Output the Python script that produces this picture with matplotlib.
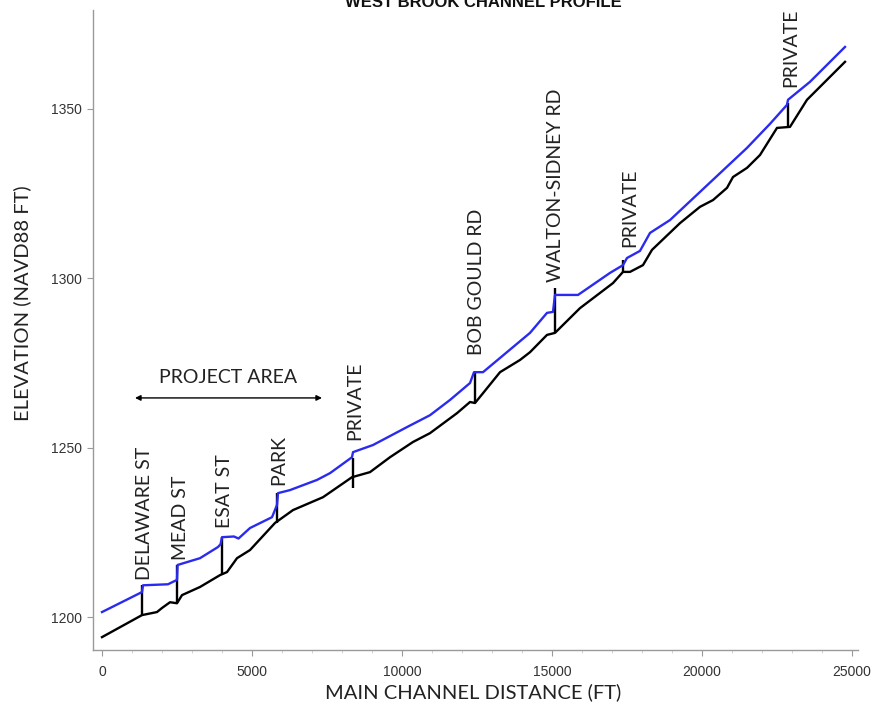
import matplotlib
matplotlib.use("Agg")
import matplotlib.pyplot as plt
from matplotlib.ticker import MultipleLocator

# Water surface profile (blue)
ws_x = [0, 1333, 1367, 2200, 2500, 2520, 3267, 3867, 3950, 4000, 4400, 4550, 4933,
        5667, 5833, 5867, 6267, 7167, 7600, 8333, 8367, 9033, 10167, 10933, 11600,
        12267, 12400, 12700, 14267, 14833, 15033, 15100, 15867, 16933, 17367, 17500,
        17933, 18267, 18933, 19933, 21500, 22267, 22833, 22867, 23600, 24767]
ws_y = [1201.5, 1207.4, 1209.4, 1209.7, 1211.0, 1215.4, 1217.4, 1220.7, 1221.5, 1223.6,
        1223.8, 1223.2, 1226.3, 1229.5, 1233.1, 1236.6, 1237.5, 1240.5, 1242.5, 1247.2,
        1248.7, 1250.8, 1256.1, 1259.6, 1264.1, 1269.1, 1272.3, 1272.3, 1283.9, 1289.8,
        1290.1, 1295.1, 1295.1, 1301.6, 1303.9, 1306.0, 1308.1, 1313.4, 1317.2, 1325.5,
        1338.5, 1345.6, 1351.2, 1352.7, 1358.0, 1368.3]

# Channel bed (black)
bed_x = [0, 1333, 1833, 2000, 2267, 2500, 2667, 3267, 3933, 4167, 4500, 4933, 5767,
         6367, 7367, 8333, 8933, 9600, 10367, 10933, 11833, 12267, 12433, 12700, 13267,
         13933, 14267, 14833, 15100, 15933, 17033, 17367, 17600, 18033, 18333, 19267,
         19933, 20367, 20833, 21033, 21500, 21933, 22500, 22933, 23500, 24767]
bed_y = [1194.1, 1200.6, 1201.5, 1202.7, 1204.4, 1204.1, 1206.5, 1208.9, 1212.4, 1213.3,
         1217.4, 1219.8, 1227.8, 1231.6, 1235.4, 1241.3, 1242.8, 1247.2, 1251.7, 1254.3,
         1260.2, 1263.5, 1263.2, 1266.1, 1272.3, 1275.9, 1278.2, 1283.3, 1283.9, 1291.2,
         1298.6, 1301.9, 1301.9, 1303.9, 1308.4, 1316.3, 1321.1, 1323.1, 1326.7, 1329.9,
         1332.6, 1336.4, 1344.4, 1344.7, 1352.7, 1363.9]

# Structures (crossings)
struct_names = ["DELAWARE ST", "MEAD ST", "ESAT ST", "PARK", "PRIVATE",
                "BOB GOULD RD", "WALTON-SIDNEY RD", "PRIVATE", "PRIVATE"]
struct_x = [1340, 2510, 3990, 5830, 8350, 12420, 15100, 17380, 22870]
struct_low = [1200.6, 1204.1, 1212.4, 1227.8, 1238.1, 1263.2, 1283.9, 1301.9, 1344.7]
struct_high = [1209.4, 1215.4, 1223.6, 1236.6, 1246.9, 1272.3, 1297.1, 1305.4, 1351.8]
label_x = [1433, 2600, 4067, 5900, 8433, 12467, 15100, 17600, 22967]
label_y = [1211.0, 1216.8, 1226.3, 1239.0, 1252.3, 1277.4, 1298.9, 1309.2, 1356.5]

project_area = (1100, 7333)

fig = plt.figure(figsize=(8.77, 7.11), dpi=100)
ax = fig.add_axes([93/877, 1 - 650/711, (858-93)/877, (650-10)/711])

ax.vlines(struct_x, struct_low, struct_high, color="black", lw=1.7, zorder=2)
ax.plot(bed_x, bed_y, color="black", lw=1.7, zorder=3)
ax.plot(ws_x, ws_y, color="#2b2bf0", lw=1.7, zorder=4)

lab_font = ["Lato", "DejaVu Sans"]
for name, lx, ly in zip(struct_names, label_x, label_y):
    ax.text(lx, ly, name, rotation=90, ha="center", va="bottom",
            fontsize=14, family=lab_font, color="#222222")

ax.annotate("", xy=(project_area[0], 1264.7), xytext=(project_area[1], 1264.7),
            arrowprops=dict(arrowstyle="<|-|>", color="black", lw=1.0,
                            mutation_scale=8, shrinkA=0, shrinkB=0))
ax.text(sum(project_area)/2, 1270.6, "PROJECT AREA", ha="center", va="center",
        fontsize=14, family=lab_font, color="#222222")

ax.set_xlim(-300, 25200)
ax.set_ylim(1190.3, 1379.2)
ax.xaxis.set_major_locator(MultipleLocator(5000))
ax.xaxis.set_minor_locator(MultipleLocator(1000))
ax.yaxis.set_major_locator(MultipleLocator(50))

for s in ["top", "right"]:
    ax.spines[s].set_visible(False)
for s in ["left", "bottom"]:
    ax.spines[s].set_color("#9a9a9a")
    ax.spines[s].set_linewidth(1.0)

ax.tick_params(axis="both", which="major", direction="out", length=4,
               color="#9a9a9a", labelsize=10, labelcolor="#333333", pad=4)
ax.tick_params(axis="x", which="major", pad=7)
ax.tick_params(axis="x", which="minor", length=2.5, color="#cccccc")
for lab in ax.get_xticklabels() + ax.get_yticklabels():
    lab.set_family("Liberation Sans")

ax.set_xlabel("MAIN CHANNEL DISTANCE (FT)", fontsize=14.5, family=lab_font,
              color="#222222")
ax.xaxis.set_label_coords((473 - 93) / 765, -(692 - 650) / 640)
ax.xaxis.label.set_va("center")
ax.set_ylabel("ELEVATION (NAVD88 FT)", fontsize=14.5, family=lab_font,
              color="#222222")
ax.yaxis.set_label_coords(-(93 - 22) / 765, (650 - 303) / 640)
ax.yaxis.label.set_va("center")

fig.text(483/877, 1 - 7/711, "WEST BROOK CHANNEL PROFILE", ha="center",
         va="baseline", fontsize=12, fontweight="bold", family="Liberation Sans",
         color="#111111")

fig.savefig("out.png", dpi=100)
